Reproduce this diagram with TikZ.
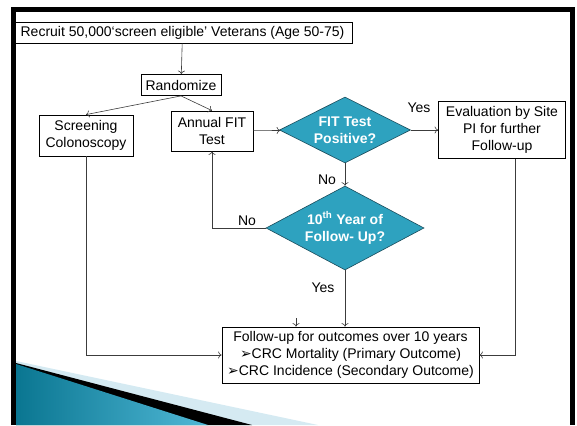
\documentclass[tikz,border=0pt]{standalone}
\usepackage{fontspec}
\setmainfont{Liberation Sans}
\newfontfamily\symfont{DejaVu Sans}
\usepackage{tikz}
\usetikzlibrary{arrows.meta,shapes.geometric}
\definecolor{decfill}{RGB}{46,162,191}
\definecolor{decline}{RGB}{25,75,90}
\definecolor{wire}{RGB}{60,60,60}
\definecolor{swdark}{RGB}{10,118,145}
\definecolor{swlight}{RGB}{80,184,214}
\definecolor{swpale}{RGB}{213,234,242}

\begin{document}
\begin{tikzpicture}[x=1pt,y=-1pt,
    every node/.style={font=\fontsize{14}{17}\selectfont},
    box/.style={draw,line width=0.8pt,inner sep=0pt,align=center},
    decision/.style={diamond,draw=decline,line width=0.6pt,fill=decfill,text=white,
        font=\fontsize{14}{17}\selectfont\bfseries,align=center,inner sep=0pt,aspect=2},
    arr/.style={-{To[length=3.5pt,width=7pt]},draw=wire,line width=0.6pt}]
    \useasboundingbox (0,0) rectangle (577,425);
    \fill[swpale] (16,361) -- (318,425) -- (16,425) -- cycle;
    \fill[black] (16,363) -- (252,425) -- (16,425) -- cycle;
    \shade[left color=swdark,right color=swlight] (16,364) -- (208,425) -- (16,425) -- cycle;
    \draw[line width=5pt] (13,425) -- (13,9.5) -- (572.5,9.5) -- (572.5,425);

    \node[box,minimum width=339pt,minimum height=21pt] (recruit) at (182.5,32.5) {Recruit 50,000‘screen eligible’ Veterans (Age 50-75)};
    \node[box,minimum width=80pt,minimum height=21pt] (rand) at (181,85) {Randomize};
    \node[box,minimum width=94pt,minimum height=41pt] (screen) at (86,135.5) {Screening\\Colonoscopy};
    \node[box,minimum width=82pt,minimum height=40pt] (fit) at (212,131) {Annual FIT\\Test};
    \node[decision,minimum width=131pt,minimum height=66pt] (pos) at (345,130) {FIT Test\\Positive?};
    \node[box,minimum width=127pt,minimum height=57pt] (eval) at (502,130) {Evaluation by Site\\PI for further\\Follow-up};
    \node[decision,minimum width=158pt,minimum height=84pt] (tenth) at (345,228) {10\textsuperscript{th} Year of\\Follow- Up?};
    \node[box,minimum width=257pt,minimum height=56pt] (outcome) at (350.5,355) {Follow-up for outcomes over 10 years\\{\symfont ➢}CRC Mortality (Primary Outcome)\\{\symfont ➢}CRC Incidence (Secondary Outcome)};

    \node (yes1) at (419,108) {Yes};
    \node (no1) at (327,180) {No};
    \node (no2) at (247,221) {No};
    \node (yes2) at (323,288) {Yes};

    \coordinate (evalfoot) at ([xshift=13pt]eval.south);
    \coordinate (stub) at (296,318);

    \draw[arr] (recruit) -- (rand);
    \draw[arr] (rand.south) -- (screen.north);
    \draw[arr] (rand.south) -- (fit.north);
    \draw[arr] (fit) -- (pos);
    \draw[arr] (pos) -- (eval);
    \draw[arr] (pos) -- (tenth);
    \draw[arr] (tenth.west) -| (fit.south);
    \draw[arr] (tenth.south) -- (tenth.south |- outcome.north);
    \draw[arr] (screen.south) |- (outcome.west);
    \draw[arr] (evalfoot) |- (outcome.east);
    \draw[arr] (stub) -- (stub |- outcome.north);
\end{tikzpicture}
\end{document}
